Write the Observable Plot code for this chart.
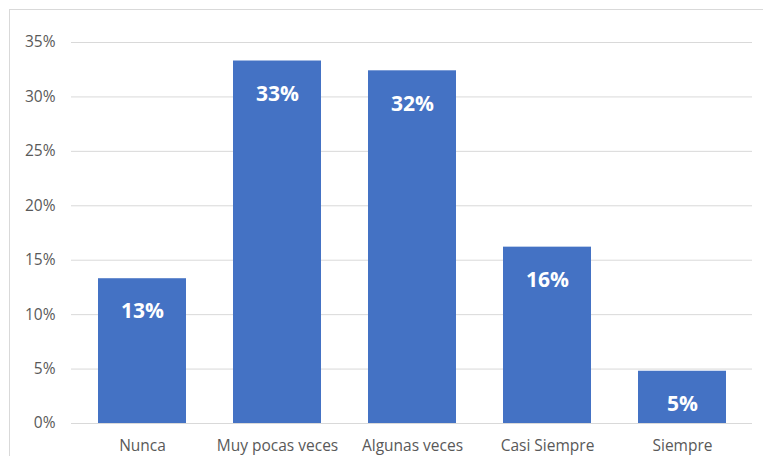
<!DOCTYPE html>
<html>
<head>
<meta charset="utf-8">
<script src="https://cdn.jsdelivr.net/npm/d3@7"></script>
<script src="https://cdn.jsdelivr.net/npm/@observablehq/plot@0.6"></script>
<style>
  html, body { margin: 0; padding: 0; background: #fff; overflow: hidden; }
  #wrap { position: relative; width: 763px; height: 456px; }
  #border { position: absolute; left: 9px; top: 9px; width: 800px; height: 500px;
            border-left: 1px solid #d9d9d9; border-top: 1px solid #d9d9d9; pointer-events: none; }
  #chart { position: absolute; left: 0; top: 0; }
</style>
</head>
<body>
<div id="wrap"><div id="border"></div><div id="chart"></div></div>
<script>
const categories = ["Nunca", "Muy pocas veces", "Algunas veces", "Casi Siempre", "Siempre"];
const values = [0.133, 0.333, 0.324, 0.162, 0.048];
const yTicks = [0, 0.05, 0.10, 0.15, 0.20, 0.25, 0.30, 0.35];

const data = categories.map((c, i) => ({category: c, value: values[i]}));
const pct = d3.format(".0%");

const chart = Plot.plot({
  width: 763,
  height: 456,
  marginLeft: 71,
  marginRight: 11,
  marginTop: 42,
  marginBottom: 33,
  style: {fontFamily: "'Open Sans', sans-serif", background: "transparent", color: "#595959"},
  x: {domain: categories, paddingInner: 0.35, paddingOuter: 0.18, label: null},
  y: {domain: [0, 0.35], label: null},
  marks: [
    Plot.gridY(yTicks, {stroke: "#d9d9d9", strokeOpacity: 1, strokeWidth: 1}),
    Plot.barY(data, {x: "category", y: "value", fill: "#4472C4"}),
    Plot.text(data, {x: "category", y: "value", text: d => pct(d.value), fill: "white",
      fontWeight: "bold", fontSize: 21, dy: 33}),
    Plot.axisY(yTicks, {tickFormat: pct, tickSize: 0, tickPadding: 16, fontSize: 15.5, fill: "#595959", label: null}),
    Plot.axisX({tickSize: 0, tickPadding: 16, fontSize: 15.5, fill: "#595959", label: null})
  ]
});
document.getElementById("chart").appendChild(chart);
</script>
</body>
</html>
